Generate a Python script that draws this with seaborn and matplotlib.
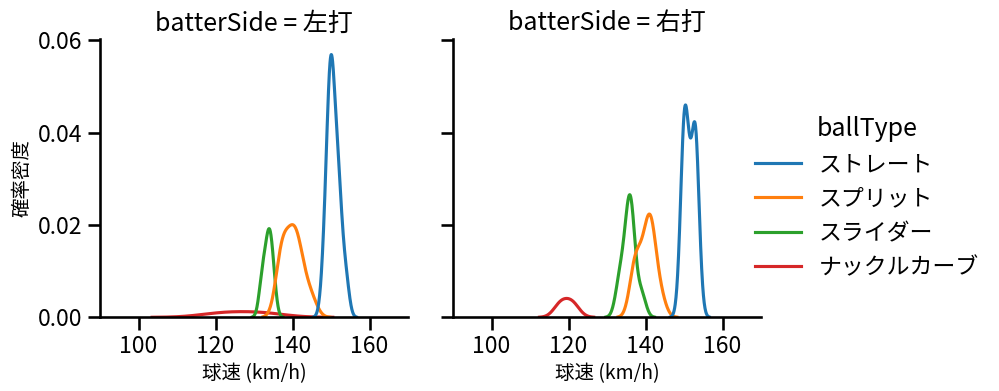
import pandas as pd
import seaborn as sns
import matplotlib.pyplot as plt

# ---- data (pitch speeds, km/h) ----
sides = ["左打", "右打"]
ball_types = ["ストレート", "スプリット", "スライダー", "ナックルカーブ"]

left_straight = [148, 149, 149, 149, 150, 150, 150, 150, 150, 150,
                 151, 151, 151, 152, 152, 152, 153, 154]
left_split = [137, 137, 137, 138, 139, 140, 140, 141, 141, 142, 143, 145]
left_slider = [132, 133, 134, 134, 135]
left_knuckle = [122, 132]

right_straight = [149, 150, 150, 150, 150, 150, 151, 151, 151, 152, 152,
                  153, 153, 153, 153, 153, 154]
right_split = [137, 137, 138, 139, 140, 141, 141, 141, 142, 142, 144]
right_slider = [133, 134, 135, 136, 136, 136, 136, 137, 139]
right_knuckle = [118, 121]

data = {
    "左打": [left_straight, left_split, left_slider, left_knuckle],
    "右打": [right_straight, right_split, right_slider, right_knuckle],
}

rows = []
for side in sides:
    for bt, speeds in zip(ball_types, data[side]):
        for v in speeds:
            rows.append({"batterSide": side, "ballType": bt, "球速": v})
df = pd.DataFrame(rows)

# ---- plot ----
sns.set_context("talk")
plt.rcParams["font.family"] = ["Noto Sans CJK JP", "DejaVu Sans"]

g = sns.displot(data=df, x="球速", hue="ballType", col="batterSide",
                kind="kde", hue_order=ball_types, col_order=sides,
                palette="tab10", height=4, aspect=1)
g.set(xlim=(90, 170), ylim=(0, 0.0602))
g.set_axis_labels("球速 (km/h)", "確率密度", fontsize=14)

fig = g.figure
fig.set_size_inches(9.99, 3.91)
fig.subplots_adjust(left=0.1001, right=0.7618, bottom=0.1885, top=0.8995,
                    wspace=0.146)
sns.move_legend(g, loc="center left", bbox_to_anchor=(0.735, 0.495),
                frameon=False)
fig.savefig("out.png", dpi=100)
